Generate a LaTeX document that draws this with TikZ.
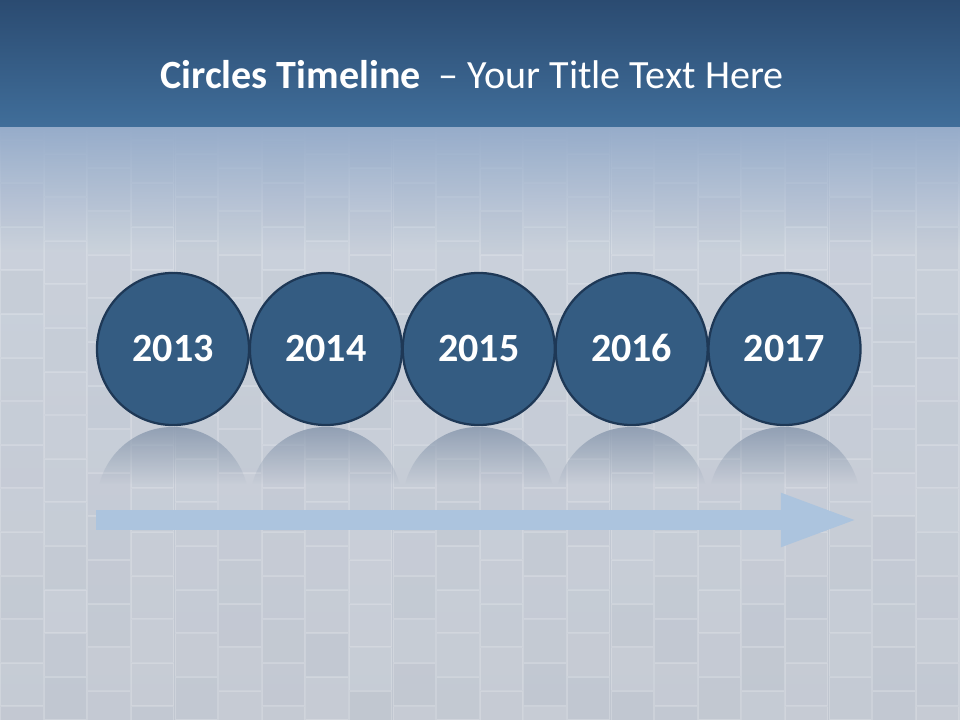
\documentclass[tikz,border=0pt]{standalone}
\usepackage{fontspec}
\setmainfont{Carlito}
\usetikzlibrary{positioning,arrows.meta,fadings}

\definecolor{bandtop}{RGB}{43,75,113}
\definecolor{bandbot}{RGB}{64,110,154}
\definecolor{haze}{RGB}{150,172,202}
\definecolor{paper}{RGB}{200,208,220}
\definecolor{paperlow}{RGB}{192,198,208}
\definecolor{yearfill}{RGB}{52,92,130}
\definecolor{yearline}{RGB}{30,56,86}
\definecolor{shine}{RGB}{140,155,176}
\definecolor{flow}{RGB}{172,196,222}

\begin{document}
\begin{tikzpicture}[
    x=0.025cm, y=-0.025cm,
    node distance=-1pt,
    year/.style={circle, draw=yearline, line width=1.6pt, fill=yearfill, minimum size=3.8cm, inner sep=0pt,
        text=white, text height=18pt, text depth=0pt, font=\fontsize{28.5}{30}\selectfont\bfseries},
    tile/.style={fill=white, draw=white, draw opacity=0.2, line width=0.5pt},
    flowarrow/.style={draw=flow, line width=0.5cm, -{Triangle[length=2cm, width=1.18cm]}}
]
    \useasboundingbox (0,0) rectangle (960,720);

    % background and tiles
    \fill[top color=paper, bottom color=paperlow] (0,0) rectangle (960,720);
    \pgfmathsetseed{11}
    \foreach \col in {0,...,22} {
        \pgfmathsetmacro{\dy}{mod(\col*7,3)*14}
        \foreach \row in {-1,...,13} {
            \pgfmathsetmacro{\op}{0.02+0.1*rnd}
            \fill[tile, fill opacity=\op] (\col*43.6+0.5, 140+\dy+\row*43.6) rectangle ++(42.5,42.5);
        }
    }

    % title band
    \fill[haze, path fading=south] (0,126) rectangle (960,250);
    \fill[top color=bandtop, bottom color=bandbot] (0,0) rectangle (960,127);
    \node[text=white, font=\fontsize{28.5}{32}\selectfont] (title) at (472,75)
        {\textbf{Circles Timeline}\ \ – Your Title Text Here};

    % years
    \node[year] (y13) at (173,349) {2013};
    \node[year, right=of y13] (y14) {2014};
    \node[year, right=of y14] (y15) {2015};
    \node[year, right=of y15] (y16) {2016};
    \node[year, right=of y16] (y17) {2017};

    % reflections
    \foreach \n in {y13,y14,y15,y16,y17} {
        \begin{scope}
            \clip ([yshift=-1.92cm]\n.south) circle[radius=1.9cm];
            \fill[shine, path fading=south, fill opacity=0.9]
                ([xshift=-2cm,yshift=-0.02cm]\n.south) rectangle ([xshift=2cm,yshift=-1.45cm]\n.south);
        \end{scope}
    }

    % time arrow
    \coordinate (tail) at (96,520);
    \coordinate (tip) at (861,520);
    \draw[flowarrow] (tail) -- (tip);
\end{tikzpicture}
\end{document}
